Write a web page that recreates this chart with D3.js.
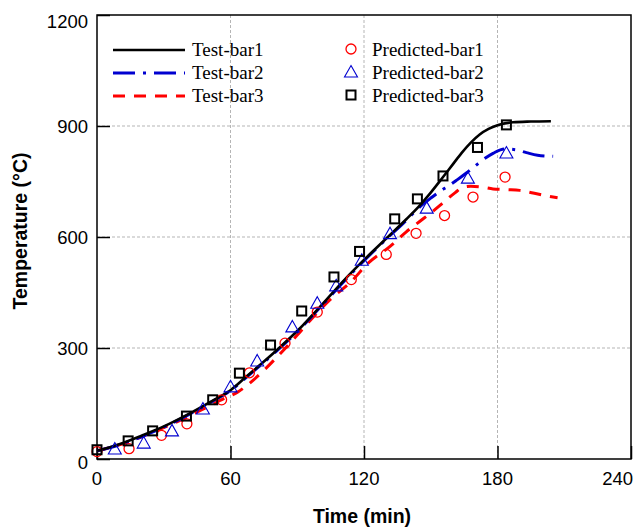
<!DOCTYPE html>
<html>
<head>
<meta charset="utf-8">
<script src="https://cdn.jsdelivr.net/npm/d3@7"></script>
<style>
  body { margin: 0; background: #fff; }
</style>
</head>
<body>
<div id="chart"></div>
<script>
// measured curves (time in min, temperature in °C)
var test1Time = [0, 10, 20, 30, 40, 52, 60, 67, 80, 91, 100, 111, 120, 130, 139, 145, 150, 155, 160, 164, 168, 172, 176, 180, 187, 195, 204];
var test1Temp = [22, 40, 63, 88, 118, 158, 186, 222, 290, 352, 410, 483, 538, 596, 648, 685, 720, 758, 797, 828, 855, 877, 892, 902, 910, 912, 913];

var test2Time = [0, 10, 20, 30, 40, 52, 60, 67, 80, 91, 100, 111, 120, 130, 139, 145, 150, 155, 158, 162, 166, 170, 174, 178, 183, 188, 193, 198, 205];
var test2Temp = [22, 38, 60, 86, 116, 156, 185, 220, 288, 350, 408, 480, 536, 594, 645, 681, 705, 727, 738, 755, 773, 792, 811, 826, 838, 836, 828, 821, 818];

var test3Time = [0, 10, 20, 30, 40, 50, 57, 63, 70, 80, 90, 96, 105, 114, 122, 132, 139, 145, 150, 156, 161, 164, 168, 173, 178, 184, 190, 196, 202, 207];
var test3Temp = [22, 38, 60, 85, 112, 142, 163, 180, 212, 270, 335, 376, 432, 478, 530, 576, 614, 642, 665, 695, 720, 733, 737, 735, 730, 728, 726, 719, 711, 706];

// predicted points
var pred1Time = [0, 14.4, 29, 40.4, 56, 68.5, 84.5, 99, 114.3, 130, 143.4, 156.2, 169, 183.4];
var pred1Temp = [20, 28, 64, 95, 160, 233, 313, 397, 485, 553, 610, 658, 708, 762];

var pred2Time = [8, 21, 33.7, 47.6, 60, 72, 87.8, 99, 107.5, 119, 131.7, 148.2, 166.7, 184];
var pred2Temp = [27, 43, 76, 135, 195, 265, 357, 421, 468, 537, 609, 678, 759, 827];

var pred3Time = [0, 14, 25, 40.2, 52, 64, 78, 92, 106.5, 118, 133.8, 144, 155.5, 171, 184];
var pred3Temp = [25, 49, 76, 116, 160, 232, 308, 400, 492, 561, 649, 703, 765, 842, 903];

var xTicks = [0, 60, 120, 180, 240];
var yTicks = [0, 300, 600, 900, 1200];

var seriesNames = ["Test-bar1", "Test-bar2", "Test-bar3"];
var predNames = ["Predicted-bar1", "Predicted-bar2", "Predicted-bar3"];

var W = 634, H = 527;
var margin = { top: 15, right: 3, bottom: 68, left: 97 };
var width = W - margin.left - margin.right,
    height = H - margin.top - margin.bottom;

var svg = d3.select("#chart").append("svg")
    .attr("width", W).attr("height", H);

var g = svg.append("g")
    .attr("transform", "translate(" + margin.left + "," + margin.top + ")");

var x = d3.scaleLinear().domain([0, 240]).range([0, width]);
var y = d3.scaleLinear().domain([0, 1200]).range([height, 0]);

// grid
g.append("g").selectAll("line")
    .data(xTicks.slice(1, -1)).enter().append("line")
    .attr("x1", d => x(d)).attr("x2", d => x(d))
    .attr("y1", 0).attr("y2", height)
    .attr("stroke", "#b5b5b5").attr("stroke-width", 1)
    .attr("stroke-dasharray", "3,2");
g.append("g").selectAll("line")
    .data(yTicks.slice(1, -1)).enter().append("line")
    .attr("y1", d => y(d)).attr("y2", d => y(d))
    .attr("x1", 0).attr("x2", width)
    .attr("stroke", "#b5b5b5").attr("stroke-width", 1)
    .attr("stroke-dasharray", "3,2");

// axes: inward ticks, labels drawn separately
var xAxis = d3.axisBottom(x).tickValues(xTicks).tickSize(-13).tickFormat("");
var yAxis = d3.axisLeft(y).tickValues(yTicks).tickSize(-13).tickFormat("");
g.append("g").attr("transform", "translate(0," + height + ")").call(xAxis)
    .call(a => a.select(".domain").remove())
    .selectAll("line").attr("stroke-width", 1.5);
g.append("g").call(yAxis)
    .call(a => a.select(".domain").remove())
    .selectAll("line").attr("stroke-width", 1.5);

g.append("rect")
    .attr("width", width).attr("height", height)
    .attr("fill", "none").attr("stroke", "#000").attr("stroke-width", 1.5);

var tickFont = "'Liberation Sans', Arial, sans-serif";

g.append("g").selectAll("text")
    .data(xTicks).enter().append("text")
    .attr("x", (d, i) => i === xTicks.length - 1 ? x(d) + 2 : x(d))
    .attr("y", height + 26)
    .attr("text-anchor", (d, i) => i === xTicks.length - 1 ? "end" : "middle")
    .attr("font-family", tickFont).attr("font-size", 18.5)
    .text(d => d);

g.append("g").selectAll("text")
    .data(yTicks).enter().append("text")
    .attr("x", -9)
    .attr("y", (d, i) => y(d) + (i === 0 ? 10 : i === yTicks.length - 1 ? 13 : 7))
    .attr("text-anchor", "end")
    .attr("font-family", tickFont).attr("font-size", 18.5)
    .text(d => d);

// axis titles
svg.append("text")
    .attr("x", margin.left + width / 2 - 2).attr("y", 523)
    .attr("text-anchor", "middle")
    .attr("font-family", tickFont).attr("font-weight", "bold").attr("font-size", 19.5)
    .text("Time (min)");
svg.append("text")
    .attr("transform", "translate(27," + (margin.top + height / 2 - 6) + ") rotate(-90)")
    .attr("text-anchor", "middle")
    .attr("font-family", tickFont).attr("font-weight", "bold").attr("font-size", 19.5)
    .text("Temperature (°C)");

// lines
var lineStyles = [
    { color: "#000000", dash: null, width: 2.6 },
    { color: "#0000d0", dash: "22,8,3,8", width: 3 },
    { color: "#ff0000", dash: "12,9", width: 3 }
];
var testData = [
    test1Time.map((t, i) => [t, test1Temp[i]]),
    test2Time.map((t, i) => [t, test2Temp[i]]),
    test3Time.map((t, i) => [t, test3Temp[i]])
];

var line = d3.line()
    .x(d => x(d[0])).y(d => y(d[1]))
    .curve(d3.curveMonotoneX);

// markers
var predData = [
    pred1Time.map((t, i) => [t, pred1Temp[i]]),
    pred2Time.map((t, i) => [t, pred2Temp[i]]),
    pred3Time.map((t, i) => [t, pred3Temp[i]])
];

function drawMarker(sel, k) {
    if (k === 0) {
        sel.append("circle").attr("r", 5)
            .attr("fill", "none").attr("stroke", "#ff0000").attr("stroke-width", 1.3);
    } else if (k === 1) {
        sel.append("path").attr("d", "M0,-6.5L6.5,5H-6.5Z")
            .attr("fill", "none").attr("stroke", "#0000d0").attr("stroke-width", 1.1);
    } else {
        sel.append("rect").attr("x", -4.5).attr("y", -4.5).attr("width", 9).attr("height", 9)
            .attr("fill", "none").attr("stroke", "#000").attr("stroke-width", 2);
    }
}

[2, 1, 0].forEach(function (k) {
    var s = lineStyles[k];
    g.append("path").datum(testData[k])
        .attr("d", line)
        .attr("fill", "none")
        .attr("stroke", s.color)
        .attr("stroke-width", s.width)
        .attr("stroke-dasharray", s.dash);
});

predData.forEach(function (pts, k) {
    g.append("g").selectAll("g")
        .data(pts).enter().append("g")
        .attr("transform", d => "translate(" + x(d[0]) + "," + y(d[1]) + ")")
        .each(function () { drawMarker(d3.select(this), k); });
});

// legend
var legY = [50, 73, 96];
var legFont = "'Liberation Serif', 'Times New Roman', serif";
seriesNames.forEach(function (name, k) {
    var s = lineStyles[k];
    svg.append("line")
        .attr("x1", 113).attr("x2", 185)
        .attr("y1", legY[k]).attr("y2", legY[k])
        .attr("stroke", s.color).attr("stroke-width", s.width)
        .attr("stroke-dasharray", s.dash);
    svg.append("text")
        .attr("x", 192).attr("y", legY[k] + 6)
        .attr("font-family", legFont).attr("font-size", 19)
        .text(name);
});
predNames.forEach(function (name, k) {
    var m = svg.append("g").attr("transform", "translate(351," + (legY[k] - 1) + ")");
    drawMarker(m, k);
    svg.append("text")
        .attr("x", 372).attr("y", legY[k] + 6)
        .attr("font-family", legFont).attr("font-size", 19)
        .text(name);
});
</script>
</body>
</html>
